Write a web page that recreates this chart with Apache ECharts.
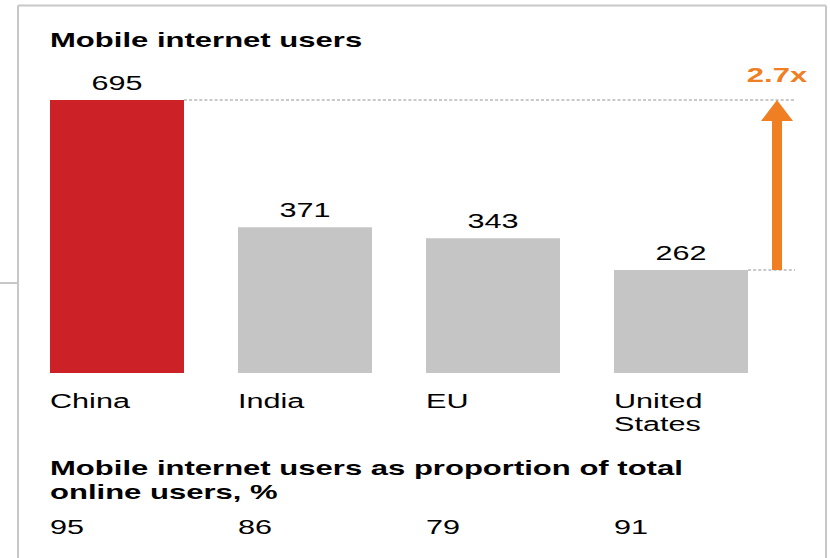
<!DOCTYPE html>
<html><head><meta charset="utf-8">
<script src="https://cdn.jsdelivr.net/npm/echarts@6/dist/echarts.min.js"></script>
<style>
html,body{margin:0;padding:0;background:#fff;overflow:hidden;}
#wrap{width:830px;height:558px;overflow:hidden;position:relative;background:#fff;}
#chart{width:553.333px;height:558px;transform:scaleX(1.5);transform-origin:0 0;}
</style></head><body><div id="wrap"><div id="chart"></div></div>
<script>
const categories = ['China', 'India', 'EU', 'United States'];
const categoryLabels = ['China', 'India', 'EU', 'United\nStates'];
const users = [695, 371, 343, 262];
const proportionPct = [95, 86, 79, 91];
const growthLabel = '2.7x';
const chartTitle = 'Mobile internet users';
const subTitle = 'Mobile internet users as proportion of total\nonline users, %';
const barColors = ['#cd2128', '#c5c5c5', '#c5c5c5', '#c5c5c5'];

const S = 1.5; // horizontal stretch of the reference
const FONT = '"Liberation Sans", Arial, Helvetica, sans-serif';
const BARW = 134 / S;
const ORANGE = '#ef7f22';
const GRAYLINE = '#c8c8c8';
const FS_BOLD = 20.7;
const FS_REG = 20.4;

function leftRich(text) { return text.split('\n').map(l => '{a|' + l + '}').join('\n'); }

const chart = echarts.init(document.getElementById('chart'), null, { renderer: 'svg' });
const richA = { a: { width: BARW, align: 'left', fontFamily: FONT, fontSize: FS_REG, color: '#000', lineHeight: 23 } };

chart.setOption({
  animation: false,
  backgroundColor: '#fff',
  title: [
    { text: chartTitle, left: 50 / S, top: 28, padding: 0,
      textStyle: { fontFamily: FONT, fontSize: FS_BOLD, fontWeight: 'bold', color: '#000', lineHeight: 24 } },
    { text: subTitle, left: 50 / S, top: 456, padding: 0,
      textStyle: { fontFamily: FONT, fontSize: FS_BOLD, fontWeight: 'bold', color: '#000', lineHeight: 24 } }
  ],
  grid: { left: 23 / S, width: 752 / S, top: 100, bottom: 185, containLabel: false },
  xAxis: [
    { type: 'category', data: categories, position: 'bottom',
      axisLine: { show: false }, axisTick: { show: false }, splitLine: { show: false },
      axisLabel: { interval: 0, margin: 16, formatter: (v, i) => leftRich(categoryLabels[i]), rich: richA } },
    { type: 'category', data: proportionPct.map(String), position: 'bottom', offset: 126,
      axisLine: { show: false }, axisTick: { show: false }, splitLine: { show: false },
      axisLabel: { interval: 0, margin: 16, formatter: (v) => leftRich(v), rich: richA } }
  ],
  yAxis: { type: 'value', min: 0, max: 695, show: false, splitLine: { show: false } },
  series: [{
    type: 'bar', xAxisIndex: 0,
    data: users.map((v, i) => ({ value: v, itemStyle: { color: barColors[i] } })),
    barWidth: BARW,
    label: { show: true, position: 'top', distance: 7, fontFamily: FONT, fontSize: FS_REG, color: '#000' }
  }]
});

const yTop = chart.convertToPixel({ yAxisIndex: 0 }, users[0]);
const yUS = chart.convertToPixel({ yAxisIndex: 0 }, users[3]);
const xChina = chart.convertToPixel({ xAxisIndex: 0 }, categories[0]);
const xUS = chart.convertToPixel({ xAxisIndex: 0 }, categories[3]);
const xArrow = xUS + 64;
const xDashEnd = xUS + 76;
const dash = { stroke: '#939393', lineWidth: 1, lineDash: [2, 1.4] };

chart.setOption({
  graphic: { elements: [
    // frame
    { type: 'line', shape: { x1: 12, y1: 5.5, x2: 12, y2: 558 }, style: { stroke: GRAYLINE, lineWidth: 2 / S }, silent: true },
    { type: 'line', shape: { x1: 12, y1: 5.5, x2: 826 / S, y2: 5.5 }, style: { stroke: GRAYLINE, lineWidth: 2 }, silent: true },
    { type: 'line', shape: { x1: 826 / S, y1: 5.5, x2: 826 / S, y2: 558 }, style: { stroke: GRAYLINE, lineWidth: 2 / S }, silent: true },
    { type: 'line', shape: { x1: 0, y1: 283, x2: 12, y2: 283 }, style: { stroke: GRAYLINE, lineWidth: 2 }, silent: true },
    // dashed reference lines
    { type: 'line', shape: { x1: xChina + BARW / 2, y1: yTop, x2: xDashEnd, y2: yTop }, style: dash, silent: true },
    { type: 'line', shape: { x1: xUS + BARW / 2, y1: yUS, x2: xDashEnd, y2: yUS }, style: dash, silent: true },
    // arrow
    { type: 'rect', shape: { x: xArrow - 5 / S, y: yTop + 20, width: 10 / S, height: yUS - yTop - 20 }, style: { fill: ORANGE }, silent: true },
    { type: 'polygon', shape: { points: [[xArrow - 16 / S, yTop + 21], [xArrow + 16 / S, yTop + 21], [xArrow, yTop]] }, style: { fill: ORANGE }, silent: true },
    { type: 'text', x: xArrow, y: yTop - 25, style: { text: growthLabel, align: 'center', verticalAlign: 'middle', fill: ORANGE, font: 'bold ' + FS_BOLD + 'px ' + FONT }, silent: true }
  ] }
});
</script></body></html>
